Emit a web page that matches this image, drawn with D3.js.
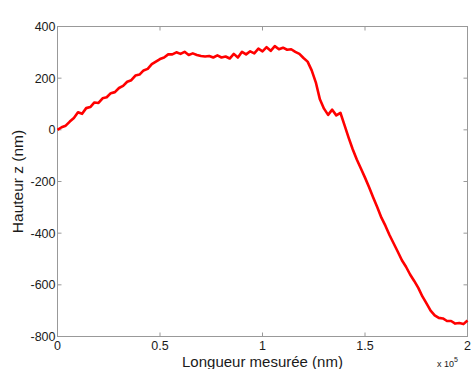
<!DOCTYPE html>
<html>
<head>
<meta charset="utf-8">
<script src="https://cdn.jsdelivr.net/npm/d3@7"></script>
<style>
  body { margin: 0; background: #fff; }
  svg text { font-family: "Liberation Sans", Arial, sans-serif; fill: #1a1a1a; }
</style>
</head>
<body>
<div class="chart"></div>
<script>
// longueur en unités de 1e5 nm, pas de 0.02
const longueur = d3.range(0, 2.0001, 0.02).map(v => +v.toFixed(2));
const hauteur = [
  0, 10, 16, 32, 46, 68, 62, 84, 88, 106,
  104, 122, 126, 142, 146, 162, 170, 186, 192, 210,
  214, 230, 236, 254, 264, 274, 280, 292, 292, 300,
  294, 302, 290, 296, 290, 286, 284, 286, 280, 288,
  280, 284, 276, 294, 280, 302, 292, 304, 296, 314,
  304, 320, 306, 324, 312, 318, 310, 312, 302, 294,
  278, 264, 230, 184, 118, 82, 58, 78, 56, 66,
  18, -30, -75, -115, -150, -185, -222, -262, -300, -340,
  -372, -408, -440, -472, -505, -530, -560, -585, -612, -645,
  -672, -700, -718, -728, -730, -740, -740, -750, -748, -752,
  -738
];
const xTicks = [0, 0.5, 1, 1.5, 2];
const yTicks = [-800, -600, -400, -200, 0, 200, 400];

const width = 473;
const height = 369;
const margin = { left: 57.5, right: 5.5, top: 26.5, bottom: 32.5 };

const svg = d3.select("div.chart")
    .append("svg")
    .attr("width", width)
    .attr("height", height);

const x = d3.scaleLinear().domain([0, 2]).range([margin.left, width - margin.right]);
const y = d3.scaleLinear().domain([-800, 400]).range([height - margin.bottom, margin.top]);

const boxColor = "#999";

// cadre
svg.append("rect")
    .attr("x", x(0)).attr("y", y(400))
    .attr("width", x(2) - x(0)).attr("height", y(-800) - y(400))
    .attr("fill", "none").attr("stroke", boxColor);

// graduations (vers l'intérieur, sur les quatre côtés)
const tickLen = 4;
const g = svg.append("g").attr("stroke", boxColor);
xTicks.forEach(t => {
    g.append("line").attr("x1", x(t)).attr("x2", x(t)).attr("y1", y(-800)).attr("y2", y(-800) - tickLen);
    g.append("line").attr("x1", x(t)).attr("x2", x(t)).attr("y1", y(400)).attr("y2", y(400) + tickLen);
});
yTicks.forEach(t => {
    g.append("line").attr("y1", y(t)).attr("y2", y(t)).attr("x1", x(0)).attr("x2", x(0) + tickLen);
    g.append("line").attr("y1", y(t)).attr("y2", y(t)).attr("x1", x(2)).attr("x2", x(2) - tickLen);
});

// étiquettes
svg.append("g").selectAll("text")
    .data(xTicks)
    .enter()
    .append("text")
    .attr("x", d => x(d))
    .attr("y", y(-800) + 13)
    .attr("text-anchor", "middle")
    .attr("font-size", 12.5)
    .text(d => d);

svg.append("g").selectAll("text")
    .data(yTicks)
    .enter()
    .append("text")
    .attr("x", x(0) - 2)
    .attr("y", d => y(d) + 4.5)
    .attr("text-anchor", "end")
    .attr("font-size", 12.5)
    .text(d => d);

svg.append("text")
    .attr("x", (x(0) + x(2)) / 2)
    .attr("y", 366.5)
    .attr("text-anchor", "middle")
    .attr("font-size", 15)
    .text("Longueur mesurée (nm)");

const mult = svg.append("text")
    .attr("x", 437)
    .attr("y", 367)
    .attr("font-size", 9);
mult.append("tspan").text("x 10");
mult.append("tspan").attr("dy", -5).attr("font-size", 7).text("5");

svg.append("text")
    .attr("transform", `translate(23,${(y(400) + y(-800)) / 2}) rotate(-90)`)
    .attr("text-anchor", "middle")
    .attr("font-size", 15.5)
    .text("Hauteur z (nm)");

// courbe
const line = d3.line()
    .x((d, i) => x(longueur[i]))
    .y(d => y(d));

svg.append("path")
    .datum(hauteur)
    .attr("fill", "none")
    .attr("stroke", "#ff0000")
    .attr("stroke-width", 2.6)
    .attr("stroke-linejoin", "round")
    .attr("d", line);
</script>
</body>
</html>
